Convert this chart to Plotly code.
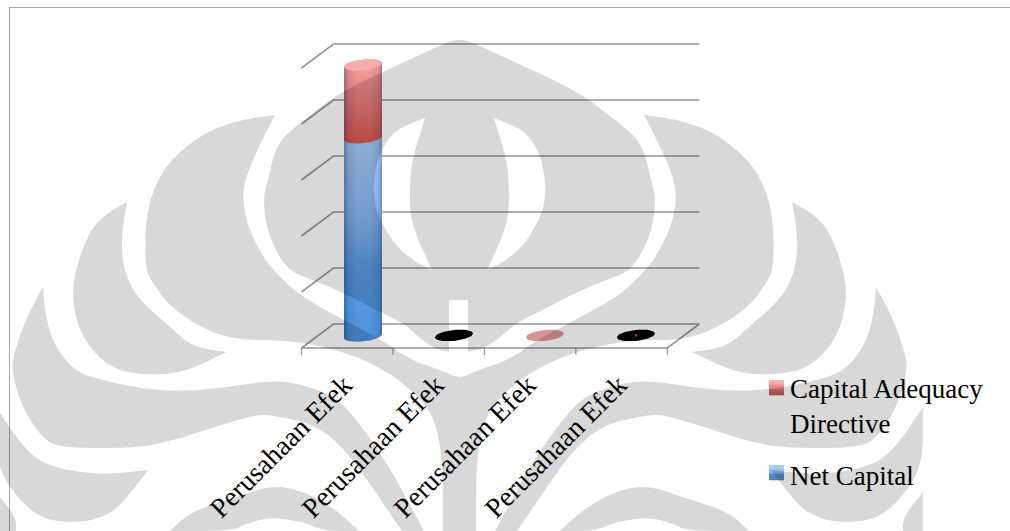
import numpy as np
import plotly.graph_objects as go

# ---- chart data -------------------------------------------------------
categories = ["Perusahaan Efek"] * 4
net_capital = [3.54, 0.01, 0.0, 0.01]
capital_adequacy = [1.30, 0.0, 0.01, 0.0]
grid_levels = [0, 1, 2, 3, 4, 5]
cap_colors = ["#f4abab", "#000000", "#d99595", "#000000"]
legend_labels = ["Capital Adequacy<br>Directive", "Net Capital"]

# ---- page and pseudo-3D geometry --------------------------------------
W, H = 1010, 531
X0_PX, PX_PER_CAT = 363.0, 91.0      # first cylinder axis, category pitch
Y0_PX, PX_PER_UNIT = 336.0, 56.0     # floor at mid depth, one gridline step
DX = 16.0 / PX_PER_CAT               # half of the depth offset, in axis units
DY = 12.0 / PX_PER_UNIT
RX = 19.0 / PX_PER_CAT               # cylinder radius
RY = 5.5 / PX_PER_UNIT
TILT = 0.10 * PX_PER_CAT / PX_PER_UNIT

PLOT_L, PLOT_R, PLOT_T, PLOT_B = 290, 710, 30, 358
x_range = [(PLOT_L - X0_PX) / PX_PER_CAT, (PLOT_R - X0_PX) / PX_PER_CAT]
y_range = [(Y0_PX - PLOT_B) / PX_PER_UNIT, (Y0_PX - PLOT_T) / PX_PER_UNIT]
x_left, x_right = -0.5, 3.5 + 0.02
line_rgba = "rgba(0,0,0,0.42)"

fig = go.Figure()


def add_lines(xs, ys, width=1.6):
    fig.add_trace(go.Scatter(x=xs, y=ys, mode="lines", hoverinfo="skip", showlegend=False,
                             line=dict(color=line_rgba, width=width), cliponaxis=False))


# back wall gridlines and their side-wall returns
gx, gy = [], []
for lv in grid_levels[1:]:
    gx += [x_left - DX, x_left + DX, x_right + DX, None]
    gy += [lv - DY, lv + DY, lv + DY, None]
add_lines(gx, gy)

# floor outline and category tick marks
add_lines([x_left - DX, x_left + DX, x_right + DX, x_right - DX, x_left - DX],
          [-DY, DY, DY, -DY, -DY])
tx, ty = [], []
for i in range(5):
    tx += [x_left - DX + i * (x_right - x_left) / 4] * 2 + [None]
    ty += [-DY, -DY - 7 / PX_PER_UNIT, None]
add_lines(tx, ty, 1.1)

# stacked columns
fig.add_trace(go.Bar(x=list(range(4)), y=net_capital, name="Net Capital", width=2 * RX * 0.9,
                     marker=dict(color="#6fa6e6", line=dict(width=0)), hoverinfo="skip",
                     showlegend=False))
fig.add_trace(go.Bar(x=list(range(4)), y=capital_adequacy, name="Capital Adequacy Directive",
                     width=2 * RX * 0.9, marker=dict(color="#ee8080", line=dict(width=0)),
                     hoverinfo="skip", showlegend=False))


def arc(c, v, a0, a1, n=40):
    t = np.linspace(a0, a1, n)
    return (c + RX * np.cos(t)).tolist(), (v + RY * np.sin(t) + TILT * RX * np.cos(t)).tolist()


def shaded_body(c, v0, v1, stops):
    """Cylinder wall between two stack levels: vertical ramp plus edge shading."""
    xb, yb = arc(c, v0, np.pi, 2 * np.pi)     # front edge of the lower rim
    xt, yt = arc(c, v1, 0, np.pi)             # back edge of the upper rim
    xs, ys = xb + xt + xb[:1], yb + yt + yb[:1]
    fig.add_trace(go.Scatter(
        x=xs, y=ys, mode="lines", fill="toself", line=dict(width=0), hoverinfo="skip",
        showlegend=False, cliponaxis=False,
        fillgradient=dict(type="vertical", start=v0 - RY, stop=v1 + RY, colorscale=stops)))
    fig.add_trace(go.Scatter(
        x=xs, y=ys, mode="lines", fill="toself", line=dict(width=0), hoverinfo="skip",
        showlegend=False, cliponaxis=False,
        fillgradient=dict(type="horizontal", start=c - RX, stop=c + RX, colorscale=[
            [0.0, "rgba(0,20,50,0.32)"], [0.12, "rgba(0,20,50,0.10)"], [0.32, "rgba(0,20,50,0.0)"],
            [0.7, "rgba(0,20,50,0.0)"], [0.9, "rgba(0,20,50,0.08)"], [1.0, "rgba(0,20,50,0.26)"]])))


shaded_body(0, 0, net_capital[0],
            [[0, "#4f92dc"], [0.35, "#5a9ae2"], [0.6, "#8ab8f0"], [1, "#a9cffb"]])
shaded_body(0, net_capital[0], net_capital[0] + capital_adequacy[0],
            [[0, "#dd5850"], [0.6, "#ea8483"], [1, "#f5a3a3"]])

# top rims; the near-zero stacks show only this disc
for i in range(4):
    level = net_capital[i] + capital_adequacy[i]
    ex, ey = arc(i, level, 0, 2 * np.pi, 60)
    fig.add_trace(go.Scatter(x=ex, y=ey, mode="lines", fill="toself", fillcolor=cap_colors[i],
                             line=dict(width=0), hoverinfo="skip", showlegend=False,
                             cliponaxis=False))
fig.add_trace(go.Scatter(x=[3], y=[0.01], mode="markers", hoverinfo="skip", showlegend=False,
                         marker=dict(color="#e04040", size=2.5, line=dict(width=0))))


# ---- page decoration, given in page pixels -----------------------------
def px(x):
    return x / W


def py(y):
    return 1 - y / H


def smooth(points, passes=2, corner_deg=55):
    """Corner-cutting that rounds the outline but leaves sharp tips in place."""
    pts = [np.array(p, float) for p in points]
    for _ in range(passes):
        out = []
        n = len(pts)
        for i in range(n):
            prev, cur, nxt = pts[i - 1], pts[i], pts[(i + 1) % n]
            a, b = cur - prev, nxt - cur
            cosang = a @ b / (np.linalg.norm(a) * np.linalg.norm(b) + 1e-9)
            if np.degrees(np.arccos(np.clip(cosang, -1, 1))) > corner_deg:
                out.append(cur)
            else:
                out += [cur + 0.25 * (prev - cur), cur + 0.25 * (nxt - cur)]
        pts = out
    return pts


def poly(points):
    return "M" + " L".join(f"{px(a):.5f},{py(b):.5f}" for a, b in smooth(points)) + " Z"


def mirror(points, axis=459.5):
    return [(2 * axis - a, b) for a, b in points]


crest = [(459, 39), (445, 43), (400, 64), (340, 92), (300, 123), (277, 143), (267, 183), (263, 200),
         (268, 235), (287, 270), (310, 279), (344, 293), (382, 313), (403, 323), (430, 347), (449, 352),
         (449, 300), (468, 300), (468, 352), (489, 347), (516, 323), (537, 313), (575, 293), (609, 279),
         (632, 270), (651, 235), (656, 200), (652, 183), (642, 143), (619, 123), (579, 92), (519, 64),
         (474, 43)]
inner_left = [(425, 118), (395, 130), (383, 147), (376, 165), (373, 190), (376, 210), (383, 225),
              (395, 245), (415, 262), (432, 270), (418, 240), (410, 215), (410, 180), (413, 157)]
wing_a = [(127, 202), (107, 213), (90, 230), (75, 270), (72, 303), (83, 340), (110, 368), (143, 375),
          (183, 373), (227, 352), (192, 347), (166, 323), (150, 310), (132, 290), (122, 262),
          (122, 230)]
span = [(275, 115), (240, 120), (203, 133), (167, 163), (150, 197), (145, 233), (146, 270), (151, 280),
        (168, 305), (200, 327), (235, 340), (287, 340), (340, 350), (386, 370), (424, 401), (438, 429),
        (443, 473), (443, 531), (476, 531), (476, 473), (481, 429), (495, 401), (533, 370), (579, 350),
        (632, 340), (684, 340), (719, 327), (751, 305), (768, 280), (773, 270), (774, 233), (769, 197),
        (752, 163), (716, 133), (679, 120), (644, 115), (657, 140), (672, 173), (677, 197), (671, 227),
        (657, 255), (646, 270), (619, 296), (575, 320), (537, 340), (509, 360), (478, 370), (459.5, 379),
        (441, 370), (410, 360), (382, 340), (344, 320), (300, 296), (273, 270), (262, 255), (248, 227),
        (242, 197), (247, 173), (262, 140)]
arm_c = [(43, 287), (45, 313), (53, 343), (73, 370), (100, 380), (150, 390), (200, 391), (272, 380),
         (305, 385), (338, 398), (366, 432), (393, 473), (424, 531), (402, 531), (372, 487),
         (348, 453), (317, 425), (272, 415), (253, 415), (200, 432), (163, 443), (133, 448),
         (65, 448), (43, 440), (20, 403), (12, 370), (13, 357), (25, 320)]
arc_d = [(170, 531), (190, 512), (234, 498), (272, 485), (303, 491), (334, 508), (359, 531), (324, 531),
         (303, 522), (272, 517), (248, 523), (231, 531)]
lobe_e = [(-4, 407), (25, 450), (50, 467), (100, 475), (148, 470), (133, 490), (113, 513), (83, 523),
          (43, 520), (16, 497), (-4, 463)]
lobe_f = [(-4, 492), (16, 517), (16, 531), (-4, 531)]

emblem = [crest, inner_left, mirror(inner_left), wing_a, mirror(wing_a), span, arm_c, mirror(arm_c),
          arc_d, mirror(arc_d), lobe_e, mirror(lobe_e), lobe_f, mirror(lobe_f)]

shapes = []
# key swatches built from thin strips
swatch_ramps = [
    (380, ["#ffb4b4", "#fba8a8", "#f59b9b", "#ee8f8e", "#e38280", "#d87472", "#cf6967", "#c65e5b", "#c0504d"]),
    (465, ["#a9cffb", "#a2c9f8", "#9cc3f4", "#93bcf0", "#8ab4ea", "#5a8fc8", "#5288c0", "#4c82ba", "#4c82ba"]),
]
for top, ramp in swatch_ramps:
    step = 15 / len(ramp)
    for k, col in enumerate(ramp):
        shapes.append(dict(type="rect", xref="paper", yref="paper", layer="above",
                           x0=px(769), x1=px(784), y0=py(top + k * step), y1=py(top + (k + 1) * step + 0.3),
                           line=dict(width=0), fillcolor=col))
# outer frame
shapes.append(dict(type="path", xref="paper", yref="paper", layer="above",
                   path=f"M{px(9.5)},{py(531)} L{px(9.5)},{py(7.5)} L{px(1010)},{py(7.5)}",
                   line=dict(color="rgba(0,0,0,0.36)", width=1), fillcolor="rgba(0,0,0,0)"))
# emblem printed over the whole page
shapes.append(dict(type="path", xref="paper", yref="paper", layer="above",
                   path=" ".join(poly(p) for p in emblem), fillcolor="rgba(0,0,0,0.153)",
                   line=dict(width=0)))

annotations = [
    dict(text=legend_labels[0], x=px(788), y=py(406), xref="paper", yref="paper", showarrow=False,
         xanchor="left", yanchor="middle", align="left"),
    dict(text=legend_labels[1], x=px(788), y=py(476), xref="paper", yref="paper", showarrow=False,
         xanchor="left", yanchor="middle", align="left"),
]

label_positions = [-0.21, 0.80, 1.81, 2.81]

fig.update_layout(
    width=W, height=H, autosize=False, margin=dict(l=0, r=0, t=0, b=0, autoexpand=False),
    paper_bgcolor="white", plot_bgcolor="rgba(0,0,0,0)", barmode="stack", showlegend=False,
    font=dict(family="Liberation Serif", size=27, color="#000000"),
    shapes=shapes, annotations=annotations,
    xaxis=dict(domain=[PLOT_L / W, PLOT_R / W], range=x_range, showgrid=False, zeroline=False,
               showline=False, ticks="", tickmode="array", tickvals=label_positions,
               ticktext=categories, tickangle=-45, ticklabelstandoff=4, automargin=False,
               tickfont=dict(family="Liberation Serif", size=28, color="#000000")),
    yaxis=dict(domain=[1 - PLOT_B / H, 1 - PLOT_T / H], range=y_range, showgrid=False, zeroline=False,
               showline=False, showticklabels=False, ticks="", automargin=False),
)

fig.write_html("out.html")
